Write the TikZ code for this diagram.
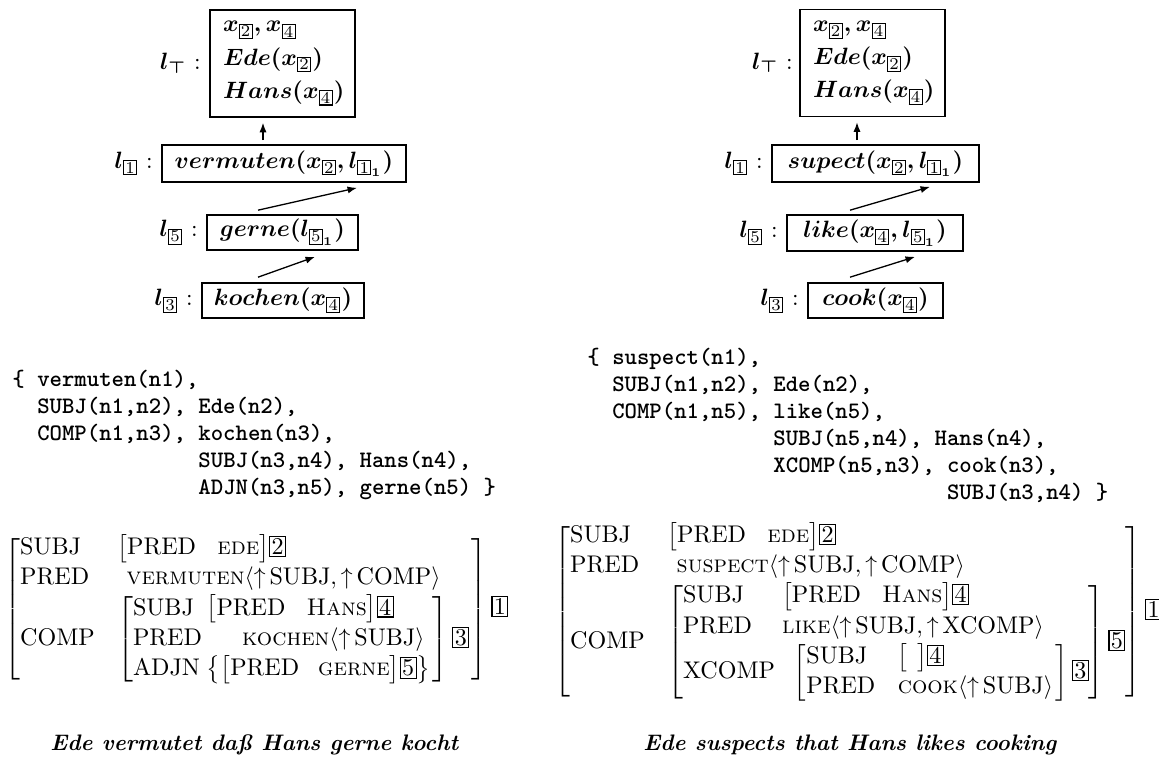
\documentclass[tikz,border=0pt]{standalone}
\usepackage{amsmath}
\usetikzlibrary{arrows.meta,calc}
\newcommand\tagbx[1]{{\setlength\fboxsep{0.6pt}\setlength\fboxrule{0.45pt}\fbox{\normalfont#1}}}
\newcommand\subbx[1]{\mbox{\scriptsize\setlength\fboxsep{0.55pt}\setlength\fboxrule{0.45pt}\fbox{\normalfont#1}}}
\newcommand\up{\mathord{\uparrow}\,}
\renewcommand\arraystretch{1.05}
\def\pxu{0.4234pt}
\begin{document}
\begin{tikzpicture}[x=\pxu,y=-\pxu,
  lbox/.style={draw, line width=0.7pt, inner sep=0pt, font=\boldmath},
  lab/.style={inner sep=0pt, font=\boldmath},
  arr/.style={-{Latex[length=4pt,width=3pt]}, line width=0.55pt},
  codetxt/.style={inner sep=0pt, align=left, font=\fontsize{10}{11.43}\selectfont\ttfamily\bfseries},
  avm/.style={inner sep=0pt, font=\fontsize{10.2}{12.2}\selectfont},
  captxt/.style={inner sep=0pt, font=\fontsize{9.5}{11}\selectfont\bfseries\itshape}]
\useasboundingbox (0,0) rectangle (1159,767);

% ---------- left top ----------
\node[lbox, text width=50.38pt, align=left, inner xsep=5.5pt, minimum height=45.3pt,
      font=\boldmath\fontsize{10.3}{14}\selectfont] (lt) at (282.5,63.5)
  {$x_{\subbx2}, x_{\subbx4}$\\ $Ede(x_{\subbx2})$\\ $Hans(x_{\subbx4})$};
\node[lbox, minimum width=103.31pt, minimum height=15.67pt] (lv) at (284,163.5)
  {$vermuten(x_{\subbx2}, l_{\subbx1_1})$};
\node[lbox, minimum width=63.93pt, minimum height=14.82pt] (lg) at (282.5,232.5)
  {$gerne(l_{\subbx5_1})$};
\node[lbox, minimum width=68.59pt, minimum height=14.82pt] (lk) at (283,300.5)
  {$kochen(x_{\subbx4})$};
\path (lt.west) ++(-8,0) node[lab, anchor=east] (ltl) {$l_{\top}$\ :};
\path (lv.base -| lv.west) ++(-8,0) node[lab, anchor=base east] (lvl) {$l_{\subbx1}$\ :};
\path (lg.base -| lg.west) ++(-8,0) node[lab, anchor=base east] (lgl) {$l_{\subbx5}$\ :};
\path (lk.base -| lk.west) ++(-8,0) node[lab, anchor=base east] (lkl) {$l_{\subbx3}$\ :};
\draw[arr] ($(lv.north)+(-21,-4)$) -- ($(lt.south)+(-19.5,5)$);
\draw[arr] ($(lg.north)+(-24.5,-4)$) -- ($(lv.south)+(73,5)$);
\draw[arr] ($(lk.north)+(-25,-5)$) -- ($(lg.south)+(32.5,6)$);

% ---------- right top ----------
\node[lbox, text width=50.38pt, align=left, inner xsep=5.5pt, minimum height=45.3pt,
      font=\boldmath\fontsize{10.3}{14}\selectfont] (rt) at (872.5,63)
  {$x_{\subbx2}, x_{\subbx4}$\\ $Ede(x_{\subbx2})$\\ $Hans(x_{\subbx4})$};
\node[lbox, minimum width=87.64pt, minimum height=15.67pt] (rs) at (875.5,163.5)
  {$supect(x_{\subbx2}, l_{\subbx1_1})$};
\node[lbox, minimum width=74.52pt, minimum height=15.24pt] (rl) at (875,233)
  {$like(x_{\subbx4}, l_{\subbx5_1})$};
\node[lbox, minimum width=57.16pt, minimum height=14.82pt] (rc) at (875.5,300.5)
  {$cook(x_{\subbx4})$};
\path (rt.west) ++(-6,0) node[lab, anchor=east] (rtl) {$l_{\top}$\ :};
\path (rs.base -| rs.west) ++(-8,0) node[lab, anchor=base east] (rsl) {$l_{\subbx1}$\ :};
\path (rl.base -| rl.west) ++(-8,0) node[lab, anchor=base east] (rll) {$l_{\subbx5}$\ :};
\path (rc.base -| rc.west) ++(-8,0) node[lab, anchor=base east] (rcl) {$l_{\subbx3}$\ :};
\draw[arr] ($(rs.north)+(-18.5,-4)$) -- ($(rt.south)+(-15.5,5)$);
\draw[arr] ($(rl.north)+(-25,-4)$) -- ($(rs.south)+(54.5,4)$);
\draw[arr] ($(rc.north)+(-25.5,-5)$) -- ($(rl.south)+(40,5)$);

% ---------- code (anchor = baseline of last line) ----------
\node[codetxt, anchor=base west] (cl) at (12,494)
  {\{ vermuten(n1),\\
   \phantom{xx}SUBJ(n1,n2), Ede(n2),\\
   \phantom{xx}COMP(n1,n3), kochen(n3),\\
   \phantom{xxxxxxxxxxxxxxx}SUBJ(n3,n4), Hans(n4),\\
   \phantom{xxxxxxxxxxxxxxx}ADJN(n3,n5), gerne(n5) \}};
\node[codetxt, anchor=base west] (cr) at (587,499)
  {\{ suspect(n1),\\
   \phantom{xx}SUBJ(n1,n2), Ede(n2),\\
   \phantom{xx}COMP(n1,n5), like(n5),\\
   \phantom{xxxxxxxxxxxxxxx}SUBJ(n5,n4), Hans(n4),\\
   \phantom{xxxxxxxxxxxxxxx}XCOMP(n5,n3), cook(n3),\\
   \phantom{xxxxxxxxxxxxxxxxxxxxxxxxxxxxx}SUBJ(n3,n4) \}};

% ---------- AVMs ----------
\node[avm, anchor=west] (al) at (4,609)
 {$\left[\begin{array}{@{}l@{\hspace{9.5pt}}l@{\hspace{1pt}}}
  \text{SUBJ} & \bigl[\text{PRED}\hspace{9pt}\textsc{ede}\bigr]\tagbx{2}\\
  \text{PRED} & \hspace{4pt}\textsc{vermuten}\langle\up\text{SUBJ},\up\text{COMP}\rangle\\
  \text{COMP} & \left[\begin{array}{@{}l@{\hspace{2pt}}l@{\hspace{1pt}}}
     \text{SUBJ} & \bigl[\text{PRED}\hspace{9pt}\textsc{Hans}\bigr]\tagbx{4}\\
     \text{PRED} & \hspace{15pt}\textsc{kochen}\langle\up\text{SUBJ}\rangle\\
     \text{ADJN} & \bigl\{\bigl[\text{PRED}\hspace{8pt}\textsc{gerne}\bigr]\tagbx{5}\bigr\}
   \end{array}\right]\tagbx{3}
 \end{array}\right]\tagbx{1}$};
\node[avm, anchor=west] (ar) at (554,612)
 {$\left[\begin{array}{@{}l@{\hspace{9.5pt}}l@{}}
  \text{SUBJ} & \bigl[\text{PRED}\hspace{9pt}\textsc{ede}\bigr]\tagbx{2}\\
  \text{PRED} & \hspace{4pt}\textsc{suspect}\langle\up\text{SUBJ},\up\text{COMP}\rangle\\
  \text{COMP} & \left[\begin{array}{@{}l@{\hspace{3pt}}l@{}}
     \text{SUBJ} & \bigl[\text{PRED}\hspace{9pt}\textsc{Hans}\bigr]\tagbx{4}\\
     \text{PRED} & \textsc{like}\langle\up\text{SUBJ},\up\text{XCOMP}\rangle\\
     \text{XCOMP} & \hspace{5pt}\left[\begin{array}{@{}l@{\hspace{9.5pt}}l@{\hspace{1pt}}}
        \text{SUBJ} & \bigl[\hspace{4pt}\bigr]\tagbx{4}\\
        \text{PRED} & \textsc{cook}\langle\up\text{SUBJ}\rangle
      \end{array}\right]\tagbx{3}
   \end{array}\right]\tagbx{5}
 \end{array}\right]\tagbx{1}$};

% ---------- captions ----------
\node[captxt, anchor=base west] (capl) at (50,750) {Ede vermutet daß Hans gerne kocht};
\node[captxt, anchor=base west] (capr) at (643,750) {Ede suspects that Hans likes cooking};
\end{tikzpicture}
\end{document}
